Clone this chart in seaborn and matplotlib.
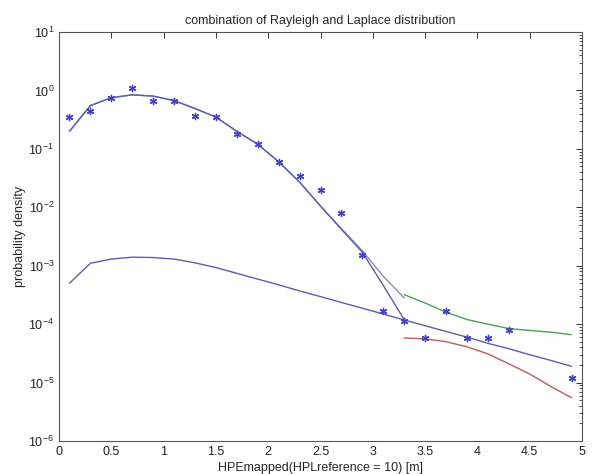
import numpy as np
import pandas as pd
import matplotlib
matplotlib.use("Agg")
import matplotlib.pyplot as plt
import seaborn as sns

# measured data (asterisks)
x_obs = [0.1, 0.3, 0.5, 0.7, 0.9, 1.1, 1.3, 1.5, 1.7, 1.9, 2.1, 2.3, 2.5, 2.7,
         2.9, 3.1, 3.3, 3.5, 3.7, 3.9, 4.1, 4.3, 4.9]
y_obs = [0.35, 0.44, 0.73, 1.08, 0.67, 0.65, 0.36, 0.35, 0.18, 0.12, 0.059, 0.034,
         0.020, 0.0081, 0.00155, 1.7e-4, 1.14e-4, 5.7e-5, 1.7e-4, 5.8e-5, 5.8e-5,
         7.8e-5, 1.2e-5]

# Rayleigh fit / combined fit (upper curves)
x_fit = [0.1, 0.3, 0.5, 0.7, 0.9, 1.1, 1.3, 1.5, 1.7, 1.9, 2.1, 2.3, 2.5, 2.7,
         2.9, 3.1, 3.3]
y_rayleigh = [0.2, 0.55, 0.75, 0.84, 0.80, 0.67, 0.49, 0.35, 0.20, 0.12, 0.060,
              0.027, 0.0105, 0.0042, 0.0017, 4.6e-4, 1.2e-4]
y_combined = [0.2, 0.55, 0.75, 0.84, 0.80, 0.67, 0.49, 0.35, 0.20, 0.12, 0.060,
              0.027, 0.0105, 0.0043, 0.0018, 6.6e-4, 2.8e-4]

# Laplace component (lower blue curve)
x_lap = [0.1, 0.3, 0.5, 0.7, 0.9, 1.1, 1.3, 1.5, 1.7, 1.9, 2.1, 2.3, 2.5, 2.7,
         2.9, 3.1, 3.3, 3.5, 3.7, 3.9, 4.1, 4.3, 4.5, 4.7, 4.9]
y_lap = [5.0e-4, 1.1e-3, 1.3e-3, 1.4e-3, 1.38e-3, 1.3e-3, 1.12e-3, 9.3e-4, 7.4e-4,
         5.9e-4, 4.7e-4, 3.7e-4, 2.96e-4, 2.35e-4, 1.87e-4, 1.49e-4, 1.18e-4,
         9.4e-5, 7.5e-5, 6.0e-5, 4.7e-5, 3.8e-5, 3.0e-5, 2.4e-5, 1.9e-5]

# tail curves
x_tail = [3.3, 3.5, 3.7, 3.9, 4.1, 4.3, 4.5, 4.7, 4.9]
y_green = [3.2e-4, 2.3e-4, 1.6e-4, 1.2e-4, 1.0e-4, 8.4e-5, 7.8e-5, 7.3e-5, 6.6e-5]
y_red = [5.8e-5, 5.6e-5, 5.0e-5, 4.1e-5, 3.1e-5, 2.1e-5, 1.4e-5, 8.6e-6, 5.5e-6]

x_ticks = [0, 0.5, 1, 1.5, 2, 2.5, 3, 3.5, 4, 4.5, 5]
x_ticklabels = ["0", "0.5", "1", "1.5", "2", "2.5", "3", "3.5", "4", "4.5", "5"]

sns.set_style("white")
plt.rcParams['font.family'] = ['Liberation Sans', 'DejaVu Sans']

fig = plt.figure(figsize=(5.95, 4.74), dpi=100)
ax = fig.add_axes([59/595, 1-441/474, (582-59)/595, (441-32)/474])

blue = "#5c5cb4"
sns.lineplot(x=x_fit, y=y_combined, ax=ax, color="#8a8ab4", lw=1.0)
sns.lineplot(x=x_fit, y=y_rayleigh, ax=ax, color=blue, lw=1.0)
sns.lineplot(x=x_lap, y=y_lap, ax=ax, color=blue, lw=1.0)
sns.lineplot(x=x_tail, y=y_green, ax=ax, color="#4ca24c", lw=1.0)
sns.lineplot(x=x_tail, y=y_red, ax=ax, color="#c05a5a", lw=1.0)
sns.scatterplot(x=x_obs, y=y_obs, ax=ax, marker=(6, 2, 0), s=20,
                color="#4040c8", linewidth=1.0, zorder=5)

ax.set_yscale("log")
ax.set_xlim(0, 5)
ax.set_ylim(1e-6, 10)
ax.set_xticks(x_ticks)
ax.set_xticklabels(x_ticklabels)
ax.tick_params(axis="both", which="both", direction="in", top=True, right=True,
               labelsize=9, colors="#333333", labelcolor="#222222")
ax.tick_params(which="major", length=4, width=0.7)
ax.tick_params(which="minor", length=2, width=0.6)
ax.yaxis.set_minor_locator(matplotlib.ticker.LogLocator(base=10, subs=np.arange(2, 10), numticks=20))
ax.yaxis.set_minor_formatter(matplotlib.ticker.NullFormatter())
for s in ax.spines.values():
    s.set_color("#555555")
    s.set_linewidth(0.8)

ax.set_title("combination of Rayleigh and Laplace distribution", fontsize=9, pad=6)
ax.set_xlabel("HPEmapped(HPLreference = 10) [m]", fontsize=9)
ax.xaxis.set_label_coords(0.5, -0.052)
ax.set_ylabel("probability density", fontsize=9, labelpad=2)

fig.savefig("out.png", dpi=100)
